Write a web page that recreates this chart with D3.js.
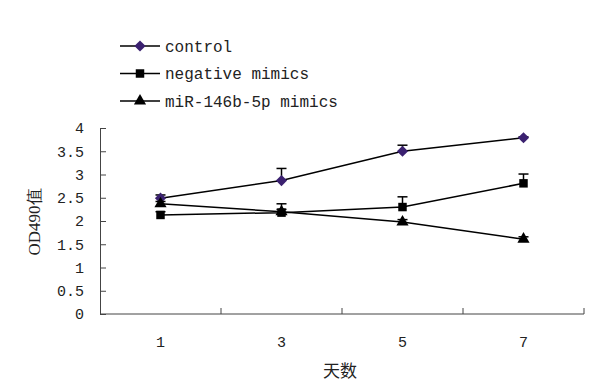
<!DOCTYPE html>
<html>
<head>
<meta charset="utf-8">
<script src="https://cdn.jsdelivr.net/npm/d3@7"></script>
<style>
  body { margin: 0; background: #fff; }
  svg { display: block; }
</style>
</head>
<body>
<div id="chart"></div>
<script>
// values
const days = ["1", "3", "5", "7"];
const seriesNames = ["control", "negative mimics", "miR-146b-5p mimics"];
const controlVals = [2.49, 2.87, 3.50, 3.79];
const controlErr = [0.07, 0.26, 0.13, 0.02];
const negativeVals = [2.13, 2.18, 2.30, 2.81];
const negativeErr = [0.07, 0.19, 0.22, 0.2];
const mirVals = [2.37, 2.20, 1.98, 1.61];
const mirErr = [0.05, 0.05, 0.05, 0.05];
const yTicks = [0, 0.5, 1, 1.5, 2, 2.5, 3, 3.5, 4];

const width = 600, height = 392;
const margin = {top: 128, right: 16, bottom: 78, left: 100};
const w = width - margin.left - margin.right;
const h = height - margin.top - margin.bottom;

const series = [
    {name: seriesNames[0], vals: controlVals, err: controlErr, symbol: d3.symbolDiamond2, size: 80, color: "#3b2170"},
    {name: seriesNames[1], vals: negativeVals, err: negativeErr, symbol: d3.symbolSquare, size: 72, color: "#000"},
    {name: seriesNames[2], vals: mirVals, err: mirErr, symbol: d3.symbolTriangle, size: 64, color: "#000"}
];

const svg = d3.select("#chart").append("svg")
    .attr("width", width)
    .attr("height", height);

const g = svg.append("g")
    .attr("transform", `translate(${margin.left},${margin.top})`);

const x = d3.scaleBand().domain(days).range([0, w]);
const y = d3.scaleLinear().domain([0, 4]).range([h, 0]);

// y axis, inside ticks
const yAxis = g.append("g")
    .call(d3.axisLeft(y).tickValues(yTicks).tickSize(-6).tickSizeOuter(0).tickPadding(16)
        .tickFormat(d => d3.format("")(d)));
yAxis.select(".domain").attr("stroke", "#444");
yAxis.selectAll(".tick line").attr("stroke", "#444");
yAxis.selectAll("text")
    .attr("font-family", "'Liberation Mono', monospace")
    .attr("font-size", 15)
    .attr("fill", "#222");

// x axis: ticks sit on the band edges
const xAxis = g.append("g").attr("transform", `translate(0,${h})`);
xAxis.append("line").attr("x1", 0).attr("x2", w).attr("stroke", "#444");
xAxis.selectAll(".xt")
    .data(days.slice(1).concat(["end"]))
    .join("line")
    .attr("class", "xt")
    .attr("x1", (d, i) => i < days.length - 1 ? x(d) : w)
    .attr("x2", (d, i) => i < days.length - 1 ? x(d) : w)
    .attr("y1", 0).attr("y2", -6)
    .attr("stroke", "#444");
xAxis.selectAll(".xl")
    .data(days)
    .join("text")
    .attr("class", "xl")
    .attr("x", d => x(d) + x.bandwidth() / 2)
    .attr("y", 33)
    .attr("text-anchor", "middle")
    .attr("font-family", "'Liberation Mono', monospace")
    .attr("font-size", 15)
    .attr("fill", "#222")
    .text(d => d);

// axis titles
g.append("text")
    .attr("x", w / 2 - 2)
    .attr("y", h + 63)
    .attr("text-anchor", "middle")
    .attr("font-family", "'Noto Sans CJK SC', sans-serif")
    .attr("font-size", 17)
    .attr("fill", "#222")
    .text("天数");

g.append("text")
    .attr("transform", `translate(${34 - margin.left},${222 - margin.top}) rotate(-90)`)
    .attr("text-anchor", "middle")
    .attr("dy", "0.35em")
    .attr("font-family", "'Liberation Serif', serif")
    .attr("font-size", 17)
    .attr("fill", "#222")
    .text("OD490值");

const cx = d => x(d) + x.bandwidth() / 2;
const line = d3.line().x((d, i) => cx(days[i])).y(d => y(d));

series.forEach(s => {
    // upper error bars
    const eb = g.append("g").attr("stroke", "#000").attr("stroke-width", 1.5);
    eb.selectAll(".stem")
        .data(s.vals)
        .join("line")
        .attr("x1", (d, i) => cx(days[i]))
        .attr("x2", (d, i) => cx(days[i]))
        .attr("y1", d => y(d))
        .attr("y2", (d, i) => y(d + s.err[i]));
    eb.selectAll(".cap")
        .data(s.vals)
        .join("line")
        .attr("x1", (d, i) => cx(days[i]) - 5)
        .attr("x2", (d, i) => cx(days[i]) + 5)
        .attr("y1", (d, i) => y(d + s.err[i]))
        .attr("y2", (d, i) => y(d + s.err[i]));

    g.append("path")
        .datum(s.vals)
        .attr("d", line)
        .attr("fill", "none")
        .attr("stroke", "#000")
        .attr("stroke-width", 1.5);

    g.selectAll(null)
        .data(s.vals)
        .join("path")
        .attr("transform", (d, i) => `translate(${cx(days[i])},${y(d)})`)
        .attr("d", d3.symbol().type(s.symbol).size(s.size))
        .attr("fill", s.color);
});

// legend
const legend = svg.append("g").attr("transform", "translate(120,46)");
series.forEach((s, i) => {
    const row = legend.append("g").attr("transform", `translate(0,${i * 27.5})`);
    row.append("line").attr("x1", 0).attr("x2", 40).attr("stroke", "#000").attr("stroke-width", 1.5);
    row.append("path")
        .attr("transform", "translate(20,0)")
        .attr("d", d3.symbol().type(s.symbol).size(s.size))
        .attr("fill", s.color);
    row.append("text")
        .attr("x", 45)
        .attr("dy", "0.35em")
        .attr("font-family", "'Liberation Mono', monospace")
        .attr("font-size", 16)
        .attr("fill", "#222")
        .text(s.name);
});
</script>
</body>
</html>
